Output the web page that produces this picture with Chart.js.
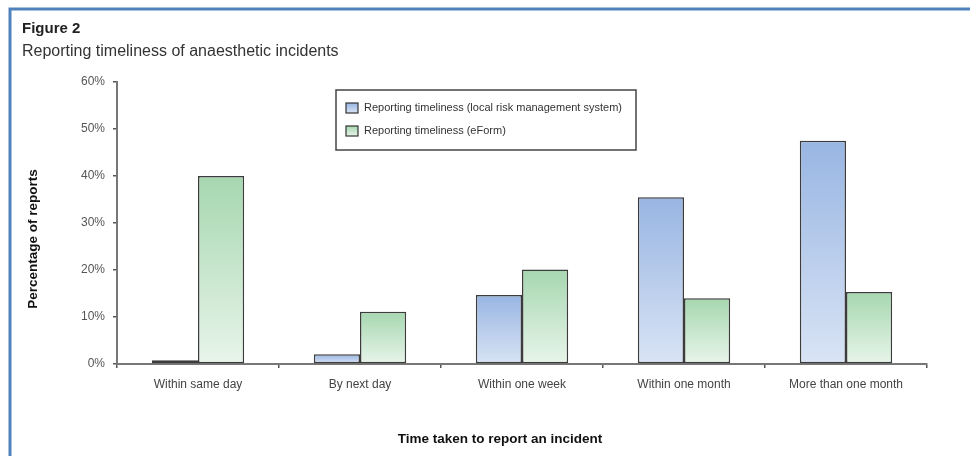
<!DOCTYPE html>
<html>
<head>
    <title>Figure 2 - Reporting timeliness</title>
    <script src="https://cdn.jsdelivr.net/npm/chart.js"></script>
    <style>
        html, body { margin: 0; padding: 0; background: #fff; }
        #wrap { width: 970px; height: 456px; position: relative; }
    </style>
</head>
<body>
    <div id="wrap"><canvas id="myChart"></canvas></div>

    <script>
        // chart data
        var categories = ['Within same day', 'By next day', 'Within one week', 'Within one month', 'More than one month'];
        var localRisk = [0.8, 2.1, 14.7, 35.5, 47.5];
        var eForm = [40, 11.1, 20.1, 14, 15.3];
        var seriesNames = ['Reporting timeliness (local risk management system)', 'Reporting timeliness (eForm)'];
        var yTicks = [0, 10, 20, 30, 40, 50, 60];

        var FONT = "'Liberation Sans', Arial, sans-serif";

        // vertical gradient for each bar, dark at the top, pale at the base
        function barFill(top, bottom) {
            return function (context) {
                var chart = context.chart;
                var ys = chart.scales.y;
                if (!ys || !chart.chartArea) return top;
                var v = context.raw;
                var y0 = ys.getPixelForValue(v);
                var y1 = ys.getPixelForValue(0);
                if (y1 - y0 < 1) return top;
                var g = chart.ctx.createLinearGradient(0, y0, 0, y1);
                g.addColorStop(0, top);
                g.addColorStop(1, bottom);
                return g;
            };
        }

        var blueTop = '#98b5e2', blueBottom = '#d9e4f5';
        var greenTop = '#a6d7b0', greenBottom = '#e8f5ea';

        // frame, titles, axis titles and the boxed legend
        var decor = {
            id: 'decor',
            afterDraw: function (chart) {
                var ctx = chart.ctx;
                ctx.save();
                // blue frame
                ctx.strokeStyle = '#4f81bd';
                ctx.lineWidth = 3;
                ctx.beginPath();
                ctx.moveTo(10, 460);
                ctx.lineTo(10, 9);
                ctx.lineTo(975, 9);
                ctx.stroke();

                ctx.fillStyle = '#222';
                ctx.textBaseline = 'alphabetic';
                ctx.textAlign = 'left';
                ctx.font = "bold 15px " + FONT;
                ctx.fillText('Figure 2', 22, 33);
                ctx.fillStyle = '#333';
                ctx.font = "16px " + FONT;
                ctx.fillText('Reporting timeliness of anaesthetic incidents', 22, 56);

                // axis titles
                ctx.fillStyle = '#111';
                ctx.font = "bold 13.5px " + FONT;
                ctx.textAlign = 'center';
                ctx.textBaseline = 'middle';
                ctx.fillText('Time taken to report an incident', 500, 439);
                ctx.save();
                ctx.translate(33, 239);
                ctx.rotate(-Math.PI / 2);
                ctx.fillText('Percentage of reports', 0, 0);
                ctx.restore();

                // legend box
                ctx.strokeStyle = '#444';
                ctx.lineWidth = 1.5;
                ctx.strokeRect(336, 90, 300, 60);
                var fills = [[blueTop, blueBottom], [greenTop, greenBottom]];
                ctx.font = "11px " + FONT;
                ctx.textAlign = 'left';
                ctx.textBaseline = 'middle';
                chart.data.datasets.forEach(function (ds, i) {
                    var y = 108 + i * 23;
                    var g = ctx.createLinearGradient(0, y - 5, 0, y + 5);
                    g.addColorStop(0, fills[i][0]);
                    g.addColorStop(1, fills[i][1]);
                    ctx.fillStyle = g;
                    ctx.fillRect(346, y - 5, 12, 10);
                    ctx.lineWidth = 1.2;
                    ctx.strokeStyle = '#333';
                    ctx.strokeRect(346, y - 5, 12, 10);
                    ctx.fillStyle = '#333';
                    ctx.fillText(ds.label, 364, y);
                });
                ctx.restore();
            }
        };

        var ctx = document.getElementById('myChart').getContext('2d');
        var myChart = new Chart(ctx, {
            type: 'bar',
            data: {
                labels: categories,
                datasets: [{
                    label: seriesNames[0],
                    data: localRisk,
                    backgroundColor: barFill(blueTop, blueBottom),
                    borderColor: '#3c3c3c',
                    borderWidth: 1.5,
                    borderSkipped: false
                }, {
                    label: seriesNames[1],
                    data: eForm,
                    backgroundColor: barFill(greenTop, greenBottom),
                    borderColor: '#3c3c3c',
                    borderWidth: 1.5,
                    borderSkipped: false
                }]
            },
            options: {
                responsive: true,
                maintainAspectRatio: false,
                animation: false,
                layout: { padding: { top: 82, right: 43, left: 0, bottom: 0 } },
                datasets: { bar: { categoryPercentage: 0.57, barPercentage: 1.0 } },
                plugins: {
                    legend: { display: false },
                    tooltip: { enabled: false }
                },
                scales: {
                    x: {
                        afterFit: function (s) { s.height = 92; },
                        grid: { display: true, drawOnChartArea: false, drawTicks: true, tickLength: 4, color: '#555', lineWidth: 1.5 },
                        border: { display: true, color: '#777', width: 2 },
                        ticks: { color: '#444', font: { family: FONT, size: 12 }, padding: 9, maxRotation: 0 }
                    },
                    y: {
                        min: 0,
                        max: 60,
                        afterFit: function (s) { s.width = 117; },
                        afterBuildTicks: function (s) { s.ticks = yTicks.map(function (v) { return { value: v }; }); },
                        grid: { display: true, drawOnChartArea: false, drawTicks: true, tickLength: 4, color: '#555', lineWidth: 1.5 },
                        border: { display: true, color: '#777', width: 2 },
                        ticks: {
                            color: '#555',
                            font: { family: FONT, size: 12 },
                            padding: 8,
                            callback: function (v) { return v + '%'; }
                        }
                    }
                }
            },
            plugins: [decor]
        });
    </script>
</body>
</html>
